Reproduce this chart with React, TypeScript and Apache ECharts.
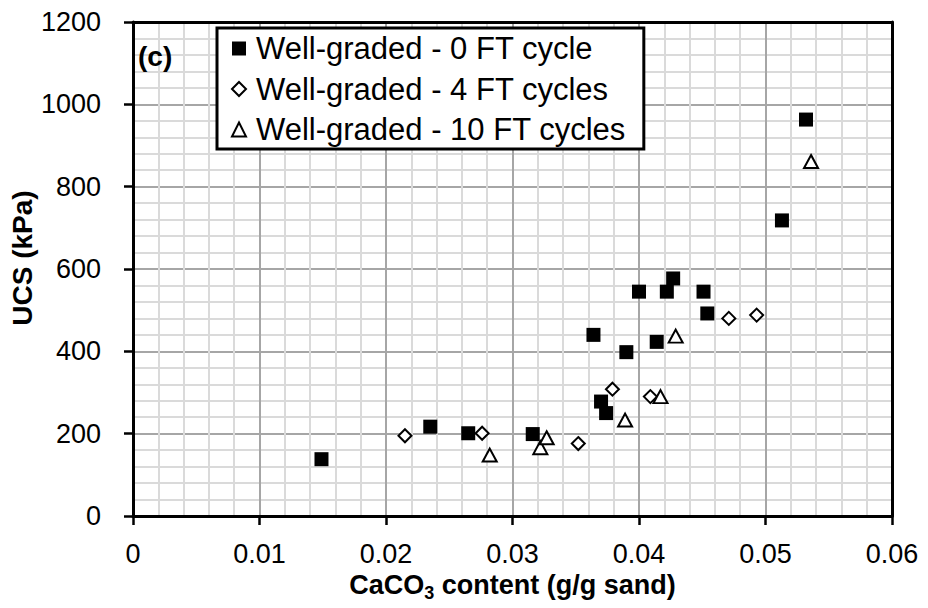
import React, { useEffect, useRef } from "react";
import * as echarts from "echarts";

const FONT = "'Liberation Sans', Arial, Helvetica, sans-serif";

const seriesNames = [
  "Well-graded - 0 FT cycle",
  "Well-graded - 4 FT cycles",
  "Well-graded - 10 FT cycles",
];

// 0 FT cycle (filled squares)
const x0 = [0.0149, 0.0235, 0.0265, 0.0316, 0.0364, 0.037, 0.0374, 0.039, 0.04, 0.0414, 0.0422, 0.0427, 0.0451, 0.0454, 0.0513, 0.0532];
const y0 = [138, 217, 201, 199, 440, 278, 250, 398, 545, 423, 545, 577, 545, 492, 718, 963];

// 4 FT cycles (open diamonds)
const x4 = [0.0215, 0.0276, 0.0352, 0.0379, 0.0409, 0.0471, 0.0493];
const y4 = [195, 201, 176, 308, 290, 480, 488];

// 10 FT cycles (open triangles)
const x10 = [0.0282, 0.0322, 0.0327, 0.0389, 0.0417, 0.0429, 0.0536];
const y10 = [148, 166, 190, 233, 290, 437, 861];

const xTickLabels = ["0", "0.01", "0.02", "0.03", "0.04", "0.05", "0.06"];
const yTickLabels = ["0", "200", "400", "600", "800", "1000", "1200"];

const pairs = (xs: number[], ys: number[]) => xs.map((x, i) => [x, ys[i]]);

export default function App() {
  const ref = useRef<HTMLDivElement>(null);

  useEffect(() => {
    document.body.style.margin = "0";
    const chart = echarts.init(ref.current!, null, { renderer: "svg" });

    const plainAxis = {
      axisTick: { show: false },
      axisLabel: { show: false },
      splitLine: { show: false },
      axisLine: { show: true, onZero: false, lineStyle: { color: "#000", width: 3 } },
    };

    const option: any = {
      animation: false,
      backgroundColor: "#fff",
      grid: { left: 133, right: 36, top: 22, bottom: 92, outerBoundsMode: "none" },
      xAxis: [
        {
          type: "value",
          min: 0,
          max: 0.06,
          interval: 0.01,
          position: "bottom",
          axisLine: { show: true, onZero: false, lineStyle: { color: "#000", width: 3 } },
          axisTick: { show: true, inside: false, length: 9, lineStyle: { color: "#000", width: 2.5 } },
          axisLabel: {
            margin: 24,
            fontSize: 27,
            color: "#000",
            fontFamily: FONT,
            formatter: (v: number) => xTickLabels[Math.round(v / 0.01)] ?? "",
          },
          splitLine: { show: true, lineStyle: { color: "#a6a6a6", width: 2 } },
          minorTick: { show: false, splitNumber: 5 },
          minorSplitLine: { show: true, lineStyle: { color: "#dadada", width: 2 } },
          name: "{a|CaCO}{s|3}{a| content (g/g sand)}",
          nameLocation: "middle",
          nameGap: 49,
          nameTextStyle: {
            rich: {
              a: { fontSize: 27, fontWeight: "bold", fontFamily: FONT, color: "#000", lineHeight: 34 },
              s: { fontSize: 18, fontWeight: "bold", fontFamily: FONT, color: "#000", lineHeight: 18, verticalAlign: "bottom" },
            },
          },
        },
        { type: "value", min: 0, max: 0.06, interval: 0.01, position: "top", ...plainAxis },
      ],
      yAxis: [
        {
          type: "value",
          min: 0,
          max: 1200,
          interval: 200,
          position: "left",
          axisLine: { show: true, onZero: false, lineStyle: { color: "#000", width: 3 } },
          axisTick: { show: true, inside: false, length: 9, lineStyle: { color: "#000", width: 2.5 } },
          axisLabel: {
            margin: 32,
            fontSize: 27,
            color: "#000",
            fontFamily: FONT,
            formatter: (v: number) => yTickLabels[Math.round(v / 200)] ?? "",
          },
          splitLine: { show: true, lineStyle: { color: "#a6a6a6", width: 2 } },
          minorTick: { show: false, splitNumber: 5 },
          minorSplitLine: { show: true, lineStyle: { color: "#dadada", width: 2 } },
        },
        { type: "value", min: 0, max: 1200, interval: 200, position: "right", ...plainAxis },
      ],
      legend: {
        show: true,
        orient: "vertical",
        left: 217,
        top: 28,
        backgroundColor: "#fff",
        borderColor: "#000",
        borderWidth: 3,
        borderRadius: 0,
        padding: [5, 18, 4, 14],
        itemWidth: 24,
        itemHeight: 14,
        itemGap: 9.5,
        symbolKeepAspect: true,
        textStyle: { fontSize: 31, color: "#000", fontFamily: FONT, lineHeight: 30 },
        data: [
          { name: seriesNames[0], icon: "path://M0,0H10V10H0Z" },
          { name: seriesNames[1], icon: "path://M5,0L10,5L5,10L0,5Z" },
          { name: seriesNames[2], icon: "path://M5,0L10,10H0Z" },
        ],
      },
      graphic: [
        {
          type: "text",
          x: 138,
          y: 56,
          z: 100,
          zlevel: 0,
          style: { text: "(c)", font: `bold 28px ${FONT}`, fill: "#000", align: "left", verticalAlign: "middle" },
        },
        {
          type: "text",
          x: 22,
          y: 258,
          z: 100,
          rotation: Math.PI / 2,
          style: { text: "UCS (kPa)", font: `bold 28px ${FONT}`, fill: "#000", align: "center", verticalAlign: "middle" },
        },
      ],
      series: [
        {
          name: seriesNames[0],
          type: "scatter",
          symbol: "rect",
          symbolSize: 14,
          itemStyle: { color: "#000", borderColor: "#000", borderWidth: 0, opacity: 1 },
          data: pairs(x0, y0),
          z: 3,
        },
        {
          name: seriesNames[1],
          type: "scatter",
          symbol: "diamond",
          symbolSize: 13,
          itemStyle: { color: "#fff", borderColor: "#000", borderWidth: 2, opacity: 1 },
          data: pairs(x4, y4),
          z: 4,
        },
        {
          name: seriesNames[2],
          type: "scatter",
          symbol: "triangle",
          symbolSize: [14, 13],
          itemStyle: { color: "#fff", borderColor: "#000", borderWidth: 2, opacity: 1 },
          data: pairs(x10, y10),
          z: 5,
        },
      ],
    };

    chart.setOption(option);
    return () => chart.dispose();
  }, []);

  return <div ref={ref} style={{ width: 928, height: 608 }} />;
}
